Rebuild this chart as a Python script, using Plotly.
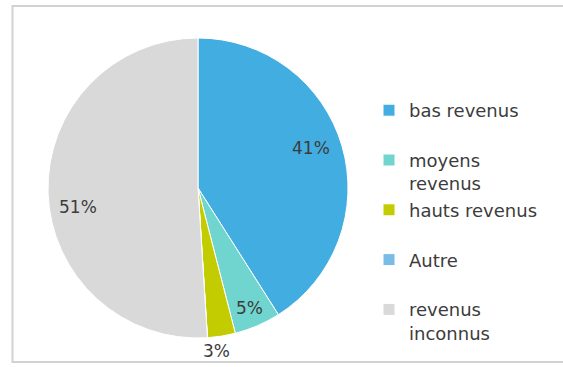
import math
import plotly.graph_objects as go

# Répartition par niveau de revenus (%)
categories = ["bas revenus", "moyens<br>revenus", "hauts revenus", "Autre", "revenus<br>inconnus"]
shares = [41, 5, 3, 0, 51]
colors = ["#41ADE1", "#70D5CF", "#C3CC00", "#79BCE6", "#D9D9D9"]

# Legend entries padded to two lines so every entry occupies the same slot
legend_names = [c if "<br>" in c else c + "<br>&nbsp;" for c in categories]

W, H = 563, 367
CX, CY, R = 198, 188, 150  # pie centre and radius in pixels

FONT = "DejaVu Sans, Open Sans, sans-serif"
TEXT_COLOR = "#3c3c3c"

fig = go.Figure(
    go.Pie(
        labels=legend_names,
        values=shares,
        sort=False,
        direction="clockwise",
        rotation=0,
        marker=dict(colors=colors, line=dict(color="white", width=1)),
        textinfo="none",
        hoverinfo="label+percent",
        domain=dict(x=[(CX - R) / W, (CX + R) / W], y=[1 - (CY + R) / H, 1 - (CY - R) / H]),
    )
)

# Percentage labels placed along each slice's mid-angle
label_radius = [0.79, 0.87, 1.10, 0.0, 0.81]
label_shift = [(-1, 7), (0, 0), (-7, 0), (0, 0), (1, -15)]
total = sum(shares)
start = 0.0
for val, rf, (dx, dy) in zip(shares, label_radius, label_shift):
    sweep = 360.0 * val / total
    if val > 0:
        mid = math.radians(start + sweep / 2)
        px = CX + rf * R * math.sin(mid)
        py = CY - rf * R * math.cos(mid)
        fig.add_annotation(
            x=px / W, y=1 - py / H, xref="paper", yref="paper",
            xanchor="center", yanchor="middle",
            text=f"{round(100 * val / total)}%", showarrow=False,
            xshift=dx, yshift=dy,
            font=dict(family=FONT, size=17, color=TEXT_COLOR),
        )
    start += sweep

# Chart frame
fig.add_shape(
    type="rect", xref="paper", yref="paper",
    x0=12.5 / W, x1=575 / W, y0=1 - 362 / H, y1=1 - 6 / H,
    line=dict(color="#D2D2D2", width=2), layer="below",
)

fig.update_layout(
    width=W, height=H,
    margin=dict(l=0, r=0, t=0, b=0),
    paper_bgcolor="white",
    plot_bgcolor="white",
    showlegend=True,
    legend=dict(
        x=369 / W, xanchor="left",
        y=1 - 92 / H, yanchor="top",
        valign="top",
        font=dict(family=FONT, size=18, color=TEXT_COLOR),
        bgcolor="rgba(0,0,0,0)",
        traceorder="normal",
    ),
    font=dict(family=FONT),
)

fig.write_html("out.html")
